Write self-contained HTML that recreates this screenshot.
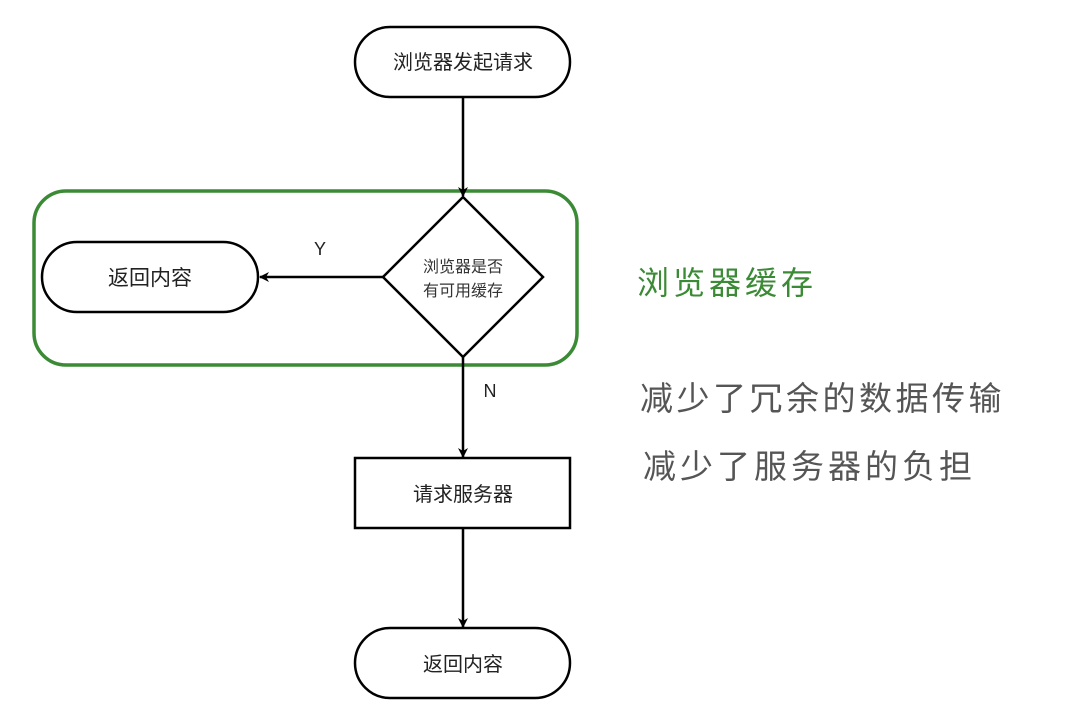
<!DOCTYPE html>
<html><head><meta charset="utf-8"><style>
html,body{margin:0;padding:0;background:#fff;}
svg{display:block;}
text{font-family:"Liberation Sans","Noto Sans CJK SC",sans-serif;}
</style></head><body>
<svg width="1073" height="710" viewBox="0 0 1073 710" xmlns="http://www.w3.org/2000/svg">
<defs>
<marker id="a" markerWidth="10" markerHeight="10" refX="9" refY="5" orient="auto" markerUnits="userSpaceOnUse">
<path d="M0,0 L10,5 L0,10 L3,5 z" fill="#000"/>
</marker>
</defs>
<rect x="34" y="191" width="543" height="174" rx="32" fill="none" stroke="#3b8a35" stroke-width="3.5"/>
<rect x="355" y="27" width="215" height="70" rx="35" fill="#fff" stroke="#000" stroke-width="2.5"/>
<text x="463" y="69" font-size="20" text-anchor="middle" fill="#222">浏览器发起请求</text>
<line x1="463" y1="97" x2="463" y2="196" stroke="#000" stroke-width="2.5" marker-end="url(#a)"/>
<polygon points="463,197 543,277 463,357 383,277" fill="#fff" stroke="#000" stroke-width="2.5"/>
<text x="463" y="272" font-size="16" text-anchor="middle" fill="#333">浏览器是否</text>
<text x="463" y="296" font-size="16" text-anchor="middle" fill="#333">有可用缓存</text>
<rect x="42" y="242" width="216" height="70" rx="35" fill="#fff" stroke="#000" stroke-width="2.5"/>
<text x="150" y="285" font-size="21" text-anchor="middle" fill="#222">返回内容</text>
<line x1="383" y1="277" x2="260" y2="277" stroke="#000" stroke-width="2.5" marker-end="url(#a)"/>
<text x="320" y="255" font-size="18" text-anchor="middle" fill="#222">Y</text>
<line x1="463" y1="357" x2="463" y2="457" stroke="#000" stroke-width="2.5" marker-end="url(#a)"/>
<text x="490" y="397" font-size="18" text-anchor="middle" fill="#222">N</text>
<rect x="355" y="458" width="215" height="70" fill="#fff" stroke="#000" stroke-width="2.5"/>
<text x="463" y="501" font-size="20" text-anchor="middle" fill="#222">请求服务器</text>
<line x1="463" y1="528" x2="463" y2="627" stroke="#000" stroke-width="2.5" marker-end="url(#a)"/>
<rect x="355" y="628" width="215" height="70" rx="35" fill="#fff" stroke="#000" stroke-width="2.5"/>
<text x="463" y="671" font-size="20" text-anchor="middle" fill="#222">返回内容</text>
<text x="637" y="294" font-size="32" letter-spacing="4" fill="#3b8a35">浏览器缓存</text>
<text x="640" y="410" font-size="33" letter-spacing="3.5" fill="#555">减少了冗余的数据传输</text>
<text x="643" y="478" font-size="33" letter-spacing="4" fill="#555">减少了服务器的负担</text>
</svg>
</body></html>
